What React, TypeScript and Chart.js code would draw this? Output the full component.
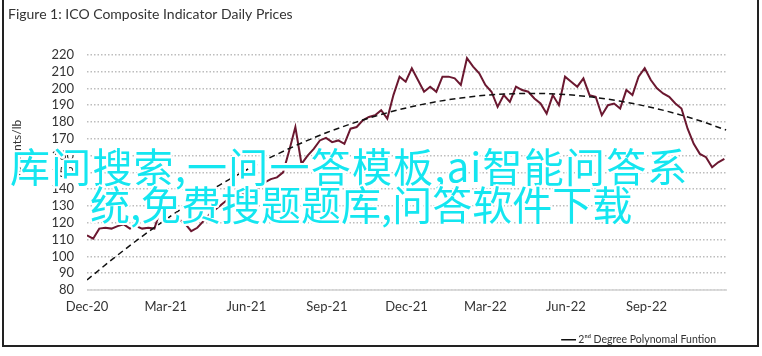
import React, { useEffect, useRef } from "react";
import { Chart, registerables } from "chart.js";

Chart.register(...registerables);

// Weekly ICO composite prices (US cents/lb), starting 1 Dec 2020
const weeklyPrices: number[] = [
  112.5, 110.5, 116.5, 117, 116.5, 118, 119, 116.5, 118, 116.5,
  117, 116.5, 128, 123, 121, 122, 119.5, 115, 117, 121,
  125, 128, 131, 134, 136, 137.5, 137, 139, 141, 144,
  146, 147, 150, 163, 177, 155, 160, 164, 169, 170.5,
  168, 169, 167, 176, 177, 181, 183, 184, 187, 182,
  196, 207, 204, 212, 205, 198, 201, 198, 207, 207,
  206, 202, 218, 213, 209, 202, 198, 189, 196, 192,
  201, 199, 198, 194, 191, 185, 196, 190, 207, 204,
  201, 206, 196, 195, 184, 190, 191, 188, 199, 196,
  207, 212, 205, 200, 197, 195, 191, 188, 176, 167,
  161, 159, 153, 156, 158,
];

// 2nd degree polynomial trend, read at month starts (days since 1 Dec 2020)
const trendDays: number[] = [
  0, 31, 62, 90, 121, 151, 182, 212, 243, 274, 304, 335, 365,
  396, 427, 455, 486, 516, 547, 577, 608, 639, 669, 700, 730,
];
const trendValues: number[] = [
  85.9, 99.1, 111.5, 121.9, 132.7, 142.3, 151.4, 159.5, 167.0, 173.7, 179.3, 184.3, 188.4,
  191.8, 194.3, 195.9, 196.8, 197.0, 196.3, 194.8, 192.5, 189.3, 185.5, 180.7, 175.2,
];

const xTickDays: number[] = [0, 90, 182, 274, 365, 455, 547, 639];
const xTickLabels: string[] = ["Dec-20", "Mar-21", "Jun-21", "Sep-21", "Dec-21", "Mar-22", "Jun-22", "Sep-22"];

const titleText = "Figure 1: ICO Composite Indicator Daily Prices";
const yAxisTitle = "US cents/lb";
const trendLabel = "2\u207F\u1D48 Degree Polynomal Funtion";
const watermarkLine1 = "库问搜索,一问一答模板,ai智能问答系";
const watermarkLine2 = "统,免费搜题题库,问答软件下载";

const FONT = "Lato, 'Open Sans', sans-serif";

export default function App() {
  const canvasRef = useRef<HTMLCanvasElement | null>(null);

  useEffect(() => {
    const canvas = canvasRef.current;
    if (!canvas) return;
    const chart = new Chart(canvas, {
      type: "line",
      data: {
        datasets: [
          {
            label: "Daily Prices",
            data: weeklyPrices.map((v, i) => ({ x: i * 7, y: v })),
            borderColor: "#6b1830",
            borderWidth: 2,
            pointRadius: 0,
            tension: 0,
            order: 1,
          },
          {
            label: trendLabel,
            data: trendDays.map((d, i) => ({ x: d, y: trendValues[i] })),
            borderColor: "#111111",
            borderWidth: 1.5,
            borderDash: [6, 4],
            pointRadius: 0,
            cubicInterpolationMode: "monotone",
            order: 0,
          },
        ],
      },
      options: {
        animation: false,
        responsive: false,
        maintainAspectRatio: false,
        layout: { padding: { left: 8, right: 35, top: 0, bottom: 1 } },
        plugins: {
          tooltip: { enabled: false },
          title: {
            display: true,
            text: titleText,
            align: "start",
            color: "#333333",
            font: { family: FONT, size: 14, weight: "normal" },
            padding: { top: 6, bottom: 32 },
          },
          legend: {
            display: true,
            position: "bottom",
            align: "end",
            labels: {
              filter: (item: any) => item.datasetIndex === 1,
              usePointStyle: true,
              pointStyle: "line",
              boxWidth: 9,
              color: "#333333",
              font: { family: FONT, size: 10.5 },
              padding: 11,
            },
          },
        },
        scales: {
          x: {
            type: "linear",
            min: 0,
            max: 731,
            grid: { display: false, drawTicks: false },
            border: { display: false },
            afterBuildTicks: (scale: any) => {
              scale.ticks = xTickDays.map((v) => ({ value: v }));
            },
            ticks: {
              autoSkip: false,
              maxRotation: 0,
              padding: 9,
              color: "#333333",
              font: { family: FONT, size: 13 },
              callback: (value: any) => {
                const idx = xTickDays.indexOf(Number(value));
                return idx >= 0 ? xTickLabels[idx] : "";
              },
            },
          },
          y: {
            min: 80,
            max: 220,
            afterFit: (scale: any) => {
              scale.width = 79;
            },
            title: { display: false },
            ticks: {
              stepSize: 10,
              maxTicksLimit: 30,
              autoSkip: false,
              padding: 13,
              color: "#333333",
              font: { family: FONT, size: 13 },
            },
            grid: {
              color: (ctx: any) => (ctx.tick && ctx.tick.value === 80 ? "#d4d4d4" : "#bdbdbd"),
              lineWidth: 1.5,
              drawTicks: false,
            },
            border: { display: false, dash: [1.5, 2] },
          },
        },
      },
      plugins: [
        {
          id: "baselineAndYTitle",
          afterDatasetsDraw(c: any) {
            const { ctx, chartArea } = c;
            const yScale = c.scales.y;
            const y0 = yScale.getPixelForValue(80);
            ctx.save();
            ctx.strokeStyle = "#d0d0d0";
            ctx.lineWidth = 1.5;
            ctx.beginPath();
            ctx.moveTo(chartArea.left, y0);
            ctx.lineTo(chartArea.right, y0);
            ctx.stroke();
            ctx.restore();
          },
          afterDraw(c: any) {
            const { ctx } = c;
            const yScale = c.scales.y;
            const yMid = yScale.getPixelForValue(163);
            ctx.save();
            ctx.translate(17, yMid);
            ctx.rotate(-Math.PI / 2);
            ctx.fillStyle = "#333333";
            ctx.font = "12px " + FONT;
            ctx.textAlign = "center";
            ctx.textBaseline = "middle";
            ctx.fillText(yAxisTitle, 0, 0);
            ctx.restore();
          },
        },
      ],
    } as any);
    return () => chart.destroy();
  }, []);

  const wmStyle: React.CSSProperties = {
    position: "absolute",
    whiteSpace: "nowrap",
    fontFamily: "'Noto Sans CJK SC', sans-serif",
    fontSize: 40,
    lineHeight: "40px",
    color: "#14e6f0",
    textShadow:
      "2px 0 0 #fff, -2px 0 0 #fff, 0 2px 0 #fff, 0 -2px 0 #fff, 1.5px 1.5px 0 #fff, -1.5px -1.5px 0 #fff, 1.5px -1.5px 0 #fff, -1.5px 1.5px 0 #fff",
    pointerEvents: "none",
  };

  return (
    <div style={{ position: "fixed", left: 0, top: 0, width: 762, height: 356, background: "#fff", overflow: "hidden" }}>
      <canvas ref={canvasRef} width={762} height={356} style={{ position: "absolute", left: 0, top: 0, width: 762, height: 356 }} />
      <div
        style={{
          position: "absolute",
          left: 2,
          top: -3,
          width: 753,
          height: 346,
          border: "2px solid #222",
          pointerEvents: "none",
        }}
      />
      <div style={{ ...wmStyle, left: 10, top: 145, letterSpacing: 1.2 }}>{watermarkLine1}</div>
      <div style={{ ...wmStyle, left: 90, top: 183 }}>{watermarkLine2}</div>
    </div>
  );
}
